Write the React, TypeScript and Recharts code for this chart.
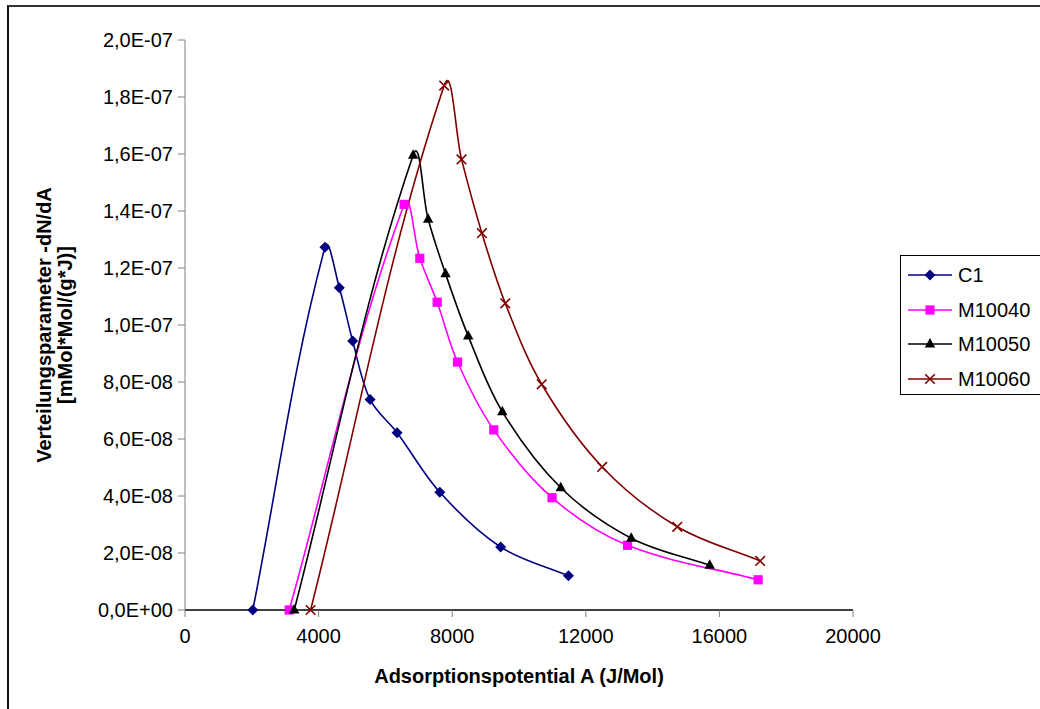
import React from 'react';
import { LineChart, Line, XAxis, YAxis } from 'recharts';

// values (x in J/Mol, y in mMol*Mol/(g*J))
const c1X = [2030, 4190, 4620, 5020, 5540, 6350, 7630, 9450, 11480];
const c1Y = [0, 1.273e-7, 1.131e-7, 0.944e-7, 0.739e-7, 0.622e-7, 0.413e-7, 0.221e-7, 0.120e-7];

const m40X = [3120, 6560, 7030, 7550, 8160, 9245, 10990, 13250, 17160];
const m40Y = [0, 1.423e-7, 1.234e-7, 1.080e-7, 0.870e-7, 0.632e-7, 0.394e-7, 0.227e-7, 0.106e-7];

const m50X = [3270, 6830, 7280, 7800, 8480, 9500, 11250, 13360, 15710];
const m50Y = [0, 1.596e-7, 1.371e-7, 1.180e-7, 0.961e-7, 0.696e-7, 0.429e-7, 0.252e-7, 0.157e-7];

const m60X = [3760, 7760, 8280, 8890, 9590, 10680, 12490, 14740, 17220];
const m60Y = [0, 1.840e-7, 1.581e-7, 1.322e-7, 1.076e-7, 0.792e-7, 0.502e-7, 0.292e-7, 0.172e-7];

const xTicks = [0, 4000, 8000, 12000, 16000, 20000];
const yTicks = [0, 2e-8, 4e-8, 6e-8, 8e-8, 1e-7, 1.2e-7, 1.4e-7, 1.6e-7, 1.8e-7, 2e-7];

const zip = (xs: number[], ys: number[]) => xs.map((x, i) => ({ x, y: ys[i] }));

const series = [
    { name: 'C1', data: zip(c1X, c1Y), color: '#000080', marker: 'diamond' },
    { name: 'M10040', data: zip(m40X, m40Y), color: '#FF00FF', marker: 'square' },
    { name: 'M10050', data: zip(m50X, m50Y), color: '#000000', marker: 'triangle' },
    { name: 'M10060', data: zip(m60X, m60Y), color: '#800000', marker: 'cross' },
];

const FONT = '"Liberation Sans", Arial, sans-serif';
const FS = 20;

// smoothed line like Excel's: tangent from neighbours, handle length tied to segment length
const smoothCurve = (context: any) => {
    let pts: number[][] = [];
    const k = 0.34;
    const tangent = (i: number) => {
        const a = pts[i - 1] || pts[i];
        const b = pts[i + 1] || pts[i];
        const dx = b[0] - a[0];
        const dy = b[1] - a[1];
        const len = Math.hypot(dx, dy) || 1;
        return [dx / len, dy / len];
    };
    return {
        areaStart() {},
        areaEnd() {},
        lineStart() { pts = []; },
        point(x: number, y: number) { pts.push([+x, +y]); },
        lineEnd() {
            if (!pts.length) return;
            context.moveTo(pts[0][0], pts[0][1]);
            for (let i = 0; i < pts.length - 1; i++) {
                const p1 = pts[i];
                const p2 = pts[i + 1];
                const seg = Math.hypot(p2[0] - p1[0], p2[1] - p1[1]);
                const t1 = tangent(i);
                const t2 = tangent(i + 1);
                context.bezierCurveTo(
                    p1[0] + t1[0] * seg * k, p1[1] + t1[1] * seg * k,
                    p2[0] - t2[0] * seg * k, p2[1] - t2[1] * seg * k,
                    p2[0], p2[1]
                );
            }
        },
    };
};

const fmtY = (v: number) => {
    const [m, e] = v.toExponential(1).split('e');
    const exp = parseInt(e, 10);
    const sign = exp < 0 ? '-' : '+';
    return `${m.replace('.', ',')}E${sign}${String(Math.abs(exp)).padStart(2, '0')}`;
};

function Marker({ type, color, cx, cy }: { type: string; color: string; cx: number; cy: number }) {
    if (cx == null || cy == null) return null;
    if (type === 'diamond') {
        const r = 5.5;
        return <path d={`M${cx},${cy - r}L${cx + r},${cy}L${cx},${cy + r}L${cx - r},${cy}Z`} fill={color} />;
    }
    if (type === 'square') {
        const r = 4.6;
        return <rect x={cx - r} y={cy - r} width={r * 2} height={r * 2} fill={color} />;
    }
    if (type === 'triangle') {
        return <path d={`M${cx},${cy - 6}L${cx + 5.2},${cy + 3.5}L${cx - 5.2},${cy + 3.5}Z`} fill={color} />;
    }
    const r = 4.8;
    return (
        <path
            d={`M${cx - r},${cy - r}L${cx + r},${cy + r}M${cx + r},${cy - r}L${cx - r},${cy + r}`}
            stroke={color}
            strokeWidth={1.6}
            fill="none"
        />
    );
}

export default function App() {
    return (
        <div style={{ position: 'absolute', left: 0, top: 0, width: 1040, height: 709, overflow: 'hidden', background: '#fff', fontFamily: FONT }}>
            {/* outer frame */}
            <div style={{ position: 'absolute', left: 7, top: 5, width: 1200, height: 900, borderTop: '2px solid #333', borderLeft: '2px solid #111' }} />

            <div style={{ position: 'absolute', left: 0, top: 0 }}>
                <LineChart width={1040} height={709} margin={{ top: 40, right: 187, bottom: 69, left: 0 }}>
                    <XAxis
                        dataKey="x"
                        type="number"
                        domain={[0, 20000]}
                        ticks={xTicks}
                        height={30}
                        axisLine={{ stroke: '#000', strokeWidth: 1.5 }}
                        tickLine={{ stroke: '#808080' }}
                        tickSize={7}
                        tickMargin={12}
                        tick={{ fill: '#000', fontSize: FS, fontFamily: FONT }}
                        allowDuplicatedCategory={false}
                    />
                    <YAxis
                        dataKey="y"
                        type="number"
                        domain={[0, 2e-7]}
                        ticks={yTicks}
                        width={185}
                        axisLine={{ stroke: '#808080' }}
                        tickLine={{ stroke: '#808080' }}
                        tickSize={7}
                        tickMargin={5}
                        tickFormatter={fmtY}
                        tick={{ fill: '#000', fontSize: FS, fontFamily: FONT }}
                    />
                    {series.map((s) => (
                        <Line
                            key={s.name}
                            data={s.data}
                            dataKey="y"
                            name={s.name}
                            type={smoothCurve as any}
                            stroke={s.color}
                            strokeWidth={1.6}
                            isAnimationActive={false}
                            dot={(p: any) => (
                                <Marker key={`${s.name}-${p.index}`} type={s.marker} color={s.color} cx={p.cx} cy={p.cy} />
                            )}
                            activeDot={false}
                        />
                    ))}
                </LineChart>
            </div>

            {/* axis titles */}
            <div style={{ position: 'absolute', left: 269, top: 665, width: 500, textAlign: 'center', fontSize: FS, fontWeight: 'bold', lineHeight: '23px' }}>
                Adsorptionspotential A (J/Mol)
            </div>
            <div
                style={{
                    position: 'absolute', left: 56 - 250, top: 325 - 22, width: 500, height: 44,
                    transform: 'rotate(-90deg)', textAlign: 'center', fontSize: FS, fontWeight: 'bold', lineHeight: '21px',
                }}
            >
                Verteilungsparameter -dN/dA<br />[mMol*Mol/(g*J)]
            </div>

            {/* legend */}
            <div style={{ position: 'absolute', left: 900, top: 255, width: 200, height: 138, border: '1px solid #000', background: '#fff' }}>
                {series.map((s, i) => (
                    <div key={s.name} style={{ position: 'absolute', left: 7, top: 19 + i * 34.6 - 12, height: 24, display: 'flex', alignItems: 'center' }}>
                        <svg width={44} height={20}>
                            <line x1={0} y1={10} x2={44} y2={10} stroke={s.color} strokeWidth={1.6} />
                            <Marker type={s.marker} color={s.color} cx={22} cy={10} />
                        </svg>
                        <span style={{ marginLeft: 6, fontSize: FS, lineHeight: '24px' }}>{s.name}</span>
                    </div>
                ))}
            </div>
        </div>
    );
}
